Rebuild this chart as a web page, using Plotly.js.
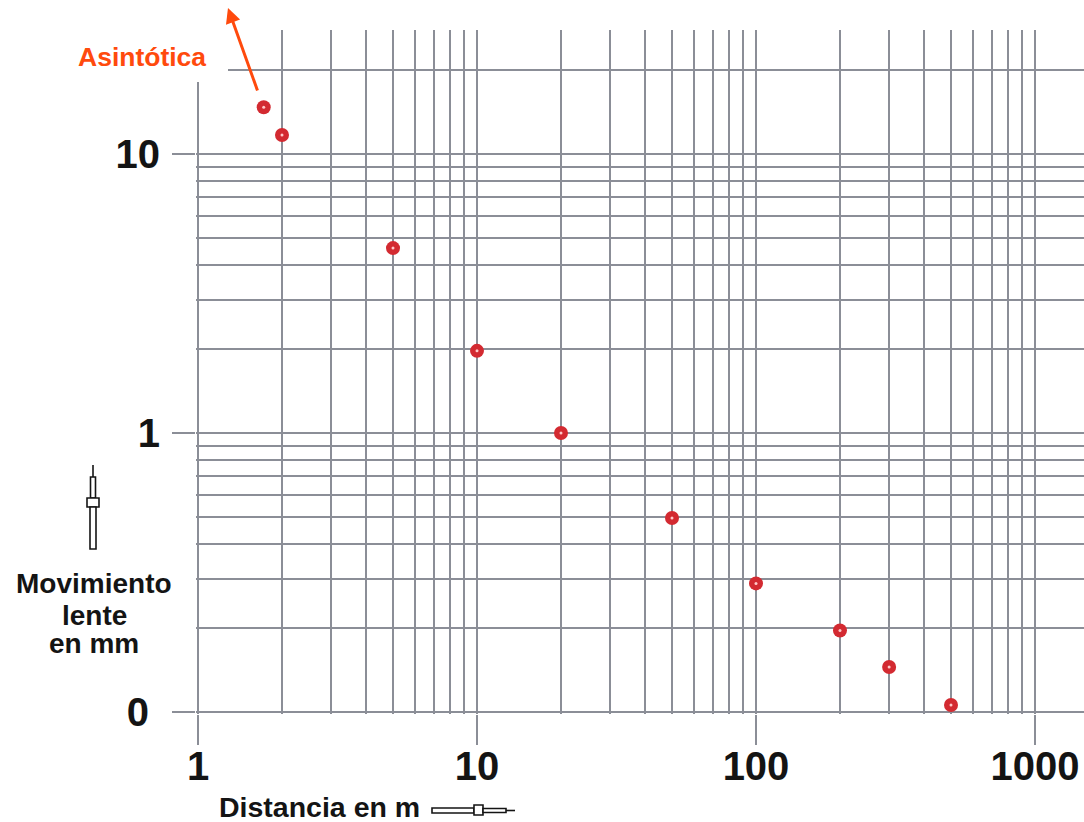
<!DOCTYPE html>
<html>
<head>
<meta charset="utf-8">
<script src="https://cdn.plot.ly/plotly-3.0.1.min.js"></script>
<style>html,body{margin:0;padding:0;background:#fff;}#chart{width:1084px;height:822px;}</style>
</head>
<body>
<div id="chart"></div>
<script>
// Data
const distancia = [1.72, 2, 5, 10, 20, 50, 100, 200, 300, 500];          // m
const movimiento = [14.7, 11.7, 4.6, 1.97, 1.0, 0.496, 0.289, 0.196, 0.145, 0.106]; // mm

const xMajorVals = [1, 10, 100, 1000];
const xMajorText = ['1', '10', '100', '1000'];
const xMinorVals = [2,3,4,5,6,7,8,9,20,30,40,50,60,70,80,90,200,300,400,500,600,700,800,900];
const yMajorVals = [0.1, 1, 10];
const yMajorText = ['0\u00A0', '1', '10'];
const yMinorVals = [0.2,0.3,0.4,0.5,0.6,0.7,0.8,0.9,2,3,4,5,6,7,8,9,20];
const yLabelLines = ['Movimiento', 'lente', 'en mm'];

const W = 1084, H = 822;
const L = 196, R = 0, T = 30, B = 108;
const PW = W - L - R, PH = H - T - B;
const DEC = 279;                        // pixels per decade
const X0 = 198, Y0 = 712;               // pixel position of x=1 and y=0.1
const px = v => (v - L) / PW;          // pixel x -> paper
const py = v => (H - B - v) / PH;      // pixel y -> paper

const gridColor = '#8b8e97';
const fontFam = 'Liberation Sans, Arial, sans-serif';

const traces = [
  {
    x: distancia, y: movimiento, type: 'scatter', mode: 'markers',
    marker: {size: 14, color: '#d32a31'}, hoverinfo: 'x+y', showlegend: false
  },
  {
    x: distancia, y: movimiento, type: 'scatter', mode: 'markers',
    marker: {size: 3, color: '#ffc9c9'}, hoverinfo: 'skip', showlegend: false
  }
];

const blk = '#141414';
const lw = 1.6;
function rect(x0, y0, x1, y1) {
  return {type: 'rect', xref: 'paper', yref: 'paper', x0: px(x0), x1: px(x1), y0: py(y0), y1: py(y1),
          line: {color: blk, width: lw}, fillcolor: '#ffffff', layer: 'above'};
}
function line(x0, y0, x1, y1) {
  return {type: 'line', xref: 'paper', yref: 'paper', x0: px(x0), x1: px(x1), y0: py(y0), y1: py(y1),
          line: {color: blk, width: lw}, layer: 'above'};
}

const shapes = [
  // white patch behind the "Asintótica" label
  {type: 'rect', xref: 'paper', yref: 'paper', x0: px(150), x1: px(228), y0: py(82), y1: py(20),
   line: {width: 0}, fillcolor: '#ffffff', layer: 'above'},
  // vertical lens glyph
  line(93, 465, 93, 477),
  rect(90.5, 477, 95.5, 498),
  rect(87, 498, 99, 507),
  rect(90, 507, 96, 549),
  // horizontal lens glyph
  rect(432, 808, 474, 813),
  rect(474, 805, 483, 815),
  rect(483, 808.5, 506, 812.5),
  line(506, 810.5, 515, 810.5)
];

const yLabelPos = [583, 615, 643];
const annotations = [
  {text: 'Asintótica', xref: 'paper', yref: 'paper', x: px(142), y: py(57), xanchor: 'center', yanchor: 'middle',
   showarrow: false, font: {family: fontFam, size: 26.5, color: '#ff4a0d', weight: 'bold'}},
  {text: '', xref: 'paper', yref: 'paper', x: px(228), y: py(8), showarrow: true,
   ax: 30, ay: 84, arrowcolor: '#ff4a0d', arrowwidth: 3, arrowhead: 2, arrowsize: 1},
  {text: 'Distancia en m', xref: 'paper', yref: 'paper', x: px(319), y: py(807),
   xanchor: 'center', yanchor: 'middle', showarrow: false,
   font: {family: fontFam, size: 28.5, color: blk, weight: 'bold'}}
].concat(yLabelLines.map((t, i) => ({
  text: t, xref: 'paper', yref: 'paper', x: px(94), y: py(yLabelPos[i]),
  xanchor: 'center', yanchor: 'middle', showarrow: false,
  font: {family: fontFam, size: 28, color: blk, weight: 'bold'}
})));

const layout = {
  width: W, height: H,
  margin: {l: L, r: R, t: T, b: B, pad: 0},
  paper_bgcolor: '#ffffff', plot_bgcolor: '#ffffff',
  showlegend: false,
  xaxis: {
    type: 'log', range: [-(X0 - L) / DEC, (W - R - X0) / DEC],
    tickmode: 'array', tickvals: xMajorVals, ticktext: xMajorText,
    ticks: 'outside', ticklen: 30, tickwidth: 2.5, tickcolor: gridColor,
    ticklabelstandoff: -13,
    showgrid: true, gridcolor: gridColor, gridwidth: 2.5,
    zeroline: false, showline: false,
    tickfont: {family: fontFam, size: 40, color: blk, weight: 'bold'},
    minor: {tickmode: 'array', tickvals: xMinorVals, showgrid: true, gridcolor: gridColor, gridwidth: 2.3, ticks: ''}
  },
  yaxis: {
    type: 'log', range: [-1 - (H - B - Y0) / DEC, -1 + (Y0 - T) / DEC],
    tickmode: 'array', tickvals: yMajorVals, ticktext: yMajorText,
    ticks: 'outside', ticklen: 23, tickwidth: 2.5, tickcolor: gridColor,
    ticklabelstandoff: 4,
    showgrid: true, gridcolor: gridColor, gridwidth: 2.5,
    zeroline: false, showline: false,
    tickfont: {family: fontFam, size: 40, color: blk, weight: 'bold'},
    minor: {tickmode: 'array', tickvals: yMinorVals, showgrid: true, gridcolor: gridColor, gridwidth: 2.3, ticks: ''}
  },
  shapes: shapes,
  annotations: annotations
};

Plotly.newPlot('chart', traces, layout, {displayModeBar: false, staticPlot: true});
</script>
</body>
</html>
